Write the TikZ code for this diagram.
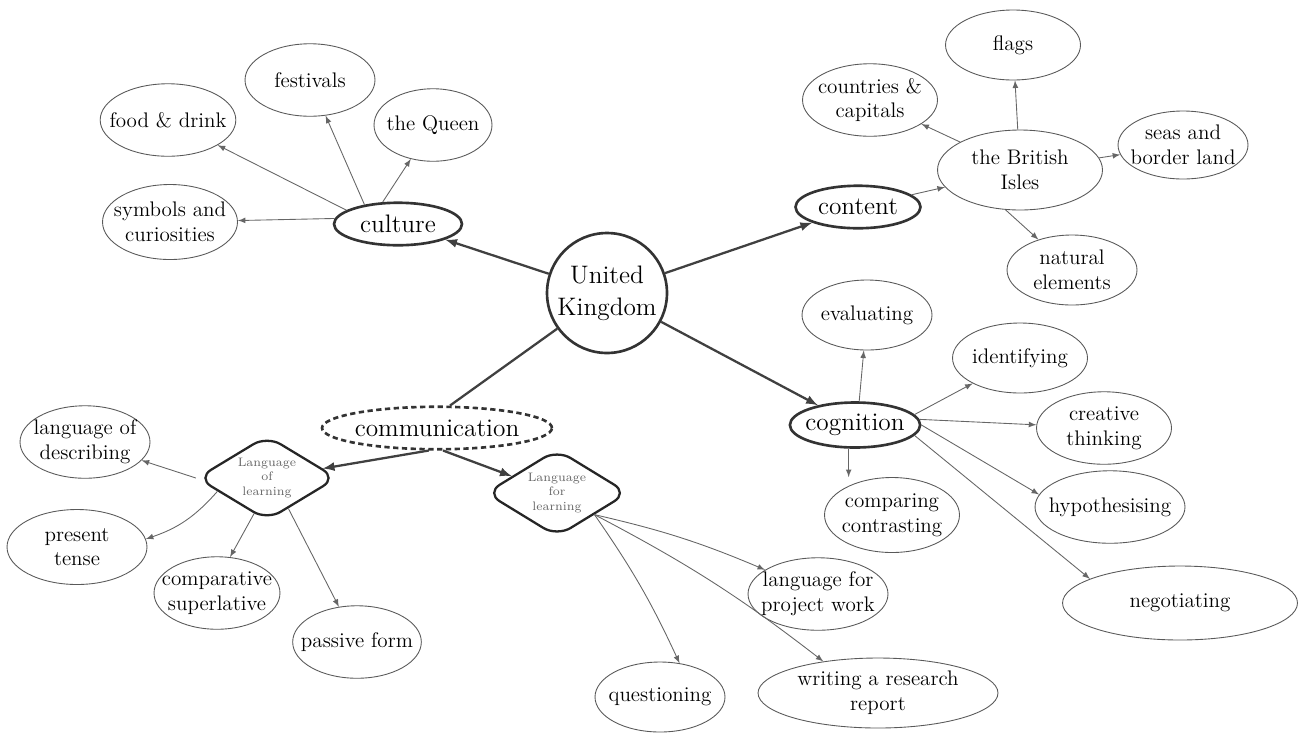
\documentclass[tikz,border=0pt]{standalone}
\usepackage{tikz}
\usetikzlibrary{shapes.geometric}
\begin{document}
\begin{tikzpicture}[x=0.02cm,y=-0.02cm]
\tikzstyle{hub}=[circle,draw=black!80,line width=1.5pt,inner sep=1pt,minimum size=2.4cm,align=center,font=\Large]
\tikzstyle{topic}=[ellipse,draw=black!80,line width=1.5pt,inner xsep=-2pt,inner ysep=0pt,minimum height=0.85cm,font=\Large]
\tikzstyle{leaf}=[ellipse,draw=black!65,line width=0.5pt,inner xsep=-6pt,inner ysep=-1pt,minimum width=2.6cm,minimum height=1.45cm,align=center,font=\large]
\tikzstyle{lang}=[diamond,draw=black!85,line width=1.3pt,rounded corners=9pt,inner sep=0pt,aspect=1.6,minimum width=2.8cm,minimum height=1.7cm,align=center,font=\scriptsize,text=black!60]
\tikzstyle{thin}=[-latex,draw=black!60,line width=0.5pt]
\tikzstyle{bold}=[-latex,draw=black!75,line width=1.3pt]
\useasboundingbox (0,0) rectangle (1300,738);
% centre and the four topics
\node[hub](uk) at (607,293) {United\\Kingdom};
\node[topic,minimum width=2.56cm](cult) at (398,224) {culture};
\node[topic,minimum width=2.5cm](cont) at (858,207) {content};
\node[topic,minimum width=4.6cm,densely dashed](comm) at (437,428) {communication};
\node[topic,minimum width=2.5cm,minimum height=0.9cm](cog) at (855,425) {cognition};
\draw[bold](uk) -- (cult);
\draw[bold](uk) -- (cont);
\draw[draw=black!75,line width=1.3pt](uk) -- (comm.60);
\draw[bold](uk) -- (cog);
% culture
\node[leaf](food) at (168,120) {food \& drink};
\node[leaf](fest) at (310,80) {festivals};
\node[leaf,minimum width=2.36cm](queen) at (433,125) {the Queen};
\node[leaf,minimum width=2.7cm,minimum height=1.5cm](symb) at (170,222) {symbols and\\curiosities};
\draw[thin](cult.165) -- (food);
\draw[thin](cult.150) -- (fest);
\draw[thin](cult.125) -- (queen);
\draw[thin](cult.175) -- (symb);
% content
\node[leaf,minimum width=3.3cm,minimum height=1.6cm](isles) at (1020,170) {the British\\Isles};
\node[leaf,minimum width=2.7cm,minimum height=1.4cm](flags) at (1013,45) {flags};
\node[leaf,minimum width=2.7cm](ctry) at (870,100) {countries \&\\capitals};
\node[leaf,minimum height=1.36cm](seas) at (1183,145) {seas and\\border land};
\node[leaf,minimum height=1.4cm](nat) at (1072,270) {natural\\elements};
\draw[thin](cont) -- (isles);
\draw[thin](isles) -- (flags);
\draw[thin](isles) -- (ctry);
\draw[thin](isles) -- (seas);
\draw[thin](isles.250) -- (nat);
% cognition
\node[leaf,minimum height=1.4cm](eval) at (867,315) {evaluating};
\node[leaf,minimum width=2.7cm,minimum height=1.4cm](ident) at (1020,358) {identifying};
\node[leaf,minimum width=2.7cm](creat) at (1104,428) {creative\\thinking};
\node[leaf,minimum width=3cm](hypo) at (1110,507) {hypothesising};
\node[leaf,minimum width=4.7cm,minimum height=1.48cm](nego) at (1180,603) {negotiating};
\node[leaf,minimum width=2.7cm,minimum height=1.5cm](comp) at (892,515) {comparing\\contrasting};
\draw[thin](cog.80) -- (eval);
\draw[thin](cog.10) -- (ident);
\draw[thin](cog.5) -- (creat);
\draw[thin](cog.0) -- (hypo.170);
\draw[thin](cog.350) -- (nego.165);
\draw[thin](cog.255) -- (cog.255 |- comp.north);
% communication
\node[lang](lol) at (267,478) {Language\\of\\learning};
\node[lang,minimum width=2.85cm,minimum height=1.75cm](lfl) at (557,493) {Language\\for\\learning};
\draw[bold](comm.250) -- (lol);
\draw[bold](comm.285) -- (lfl);
\node[leaf](desc) at (85,442) {language of\\describing};
\node[leaf,minimum width=2.8cm,minimum height=1.5cm](pres) at (77,547) {present\\tense};
\node[leaf,minimum width=2.2cm](compar) at (217,593) {comparative\\superlative};
\node[leaf,minimum width=2.5cm](pass) at (357,642) {passive form};
\draw[thin](lol.west) -- (desc);
\draw[thin](lol.195) to[bend left=15] (pres);
\draw[thin](lol.250) -- (compar.70);
\draw[thin](lol.305) -- (pass);
\node[leaf,minimum width=2.8cm](proj) at (818,594) {language for\\project work};
\node[leaf,minimum width=4.8cm,minimum height=1.4cm](rep) at (878,693) {writing a research\\report};
\node[leaf,minimum height=1.4cm](quest) at (660,697) {questioning};
\draw[thin](lfl.330) to[bend left=5] (proj);
\draw[thin](lfl.330) to[bend left=5] (rep.150);
\draw[thin](lfl.330) to[bend left=5] (quest.60);
\end{tikzpicture}
\end{document}
